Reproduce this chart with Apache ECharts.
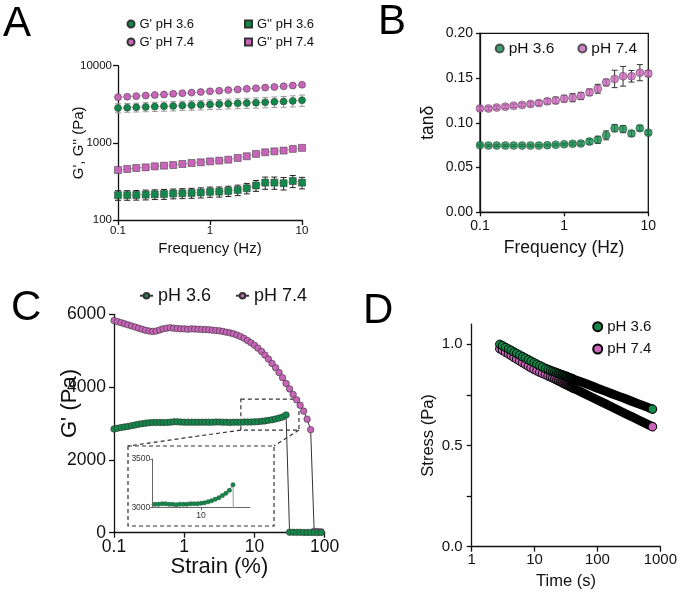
<!DOCTYPE html>
<html><head><meta charset="utf-8">
<script src="https://cdn.jsdelivr.net/npm/echarts@6/dist/echarts.min.js"></script>
<style>html,body{margin:0;padding:0;background:#fff}#c{width:680px;height:594px}</style>
</head><body><div id="c"></div>
<script>
// ---------- Panel A / B : frequency sweep ----------
const freq = [0.1, 0.126, 0.158, 0.2, 0.251, 0.316, 0.398, 0.501, 0.631, 0.794, 1, 1.26, 1.58, 2, 2.51, 3.16, 3.98, 5.01, 6.31, 7.94, 10];
const gp36 = [2830, 2860, 2890, 2920, 2950, 2980, 3010, 3050, 3080, 3110, 3150, 3180, 3220, 3250, 3290, 3320, 3360, 3400, 3440, 3500, 3570];
const gp36Err = [380, 370, 380, 390, 400, 410, 420, 420, 430, 440, 450, 460, 470, 480, 490, 500, 520, 530, 550, 570, 600];
const gp74 = [3900, 3960, 4030, 4100, 4170, 4240, 4320, 4400, 4480, 4560, 4650, 4740, 4830, 4920, 5010, 5100, 5200, 5300, 5410, 5530, 5660];
const gp74Err = [50, 50, 50, 55, 55, 55, 60, 60, 60, 65, 65, 65, 70, 70, 75, 75, 80, 80, 85, 90, 95];
const gpp36 = [210, 210, 211, 213, 215, 217, 220, 222, 224, 227, 232, 233, 238, 245, 258, 280, 305, 305, 300, 320, 305];
const gpp36Err = [30, 30, 30, 31, 31, 32, 32, 33, 33, 34, 35, 35, 36, 38, 40, 45, 55, 55, 55, 57, 52];
const gpp74 = [445, 458, 472, 481, 496, 506, 516, 532, 548, 559, 575, 588, 605, 637, 670, 718, 754, 776, 794, 835, 861];
const gpp74Err = [10, 10, 10, 10, 10, 10, 11, 11, 12, 12, 12, 13, 13, 14, 15, 16, 17, 18, 18, 19, 20];

const tan36 = [0.075, 0.0745, 0.0745, 0.0745, 0.0745, 0.0745, 0.0745, 0.0745, 0.075, 0.0755, 0.076, 0.0765, 0.077, 0.079, 0.081, 0.086, 0.094, 0.093, 0.088, 0.094, 0.089];
const tan36Err = [0.001, 0.001, 0.001, 0.001, 0.001, 0.001, 0.001, 0.001, 0.001, 0.001, 0.001, 0.0015, 0.002, 0.003, 0.004, 0.005, 0.004, 0.004, 0.003, 0.003, 0.002];
const tan74 = [0.116, 0.116, 0.117, 0.118, 0.119, 0.120, 0.121, 0.122, 0.124, 0.125, 0.127, 0.128, 0.130, 0.134, 0.138, 0.145, 0.149, 0.152, 0.152, 0.156, 0.155];
const tan74Err = [0.002, 0.002, 0.002, 0.002, 0.002, 0.002, 0.0025, 0.0028, 0.003, 0.0037, 0.0037, 0.0045, 0.004, 0.0037, 0.005, 0.0037, 0.0097, 0.011, 0.0065, 0.009, 0.0034];

// ---------- Panel C : amplitude sweep ----------
const strain = [0.1, 0.112, 0.126, 0.141, 0.158, 0.178, 0.2, 0.224, 0.251, 0.282, 0.316, 0.355, 0.398, 0.447, 0.501, 0.562, 0.631, 0.708, 0.794, 0.891,
  1, 1.12, 1.26, 1.41, 1.58, 1.78, 2, 2.24, 2.51, 2.82, 3.16, 3.55, 3.98, 4.47, 5.01, 5.62, 6.31, 7.08, 7.94, 8.91,
  10, 11.2, 12.6, 14.1, 15.8, 17.8, 20, 22.4, 25.1, 28.2, 31.6, 35.5, 39.8, 44.7, 50.1, 56.2, 63.1, 70.8, 79.4, 89.1];
const gC36 = [2850, 2870, 2890, 2905, 2920, 2940, 2960, 2980, 2995, 3010, 3020, 3025, 3030, 3030, 3025, 3030, 3035, 3045, 3045, 3040,
  3035, 3035, 3035, 3035, 3035, 3035, 3035, 3035, 3035, 3040, 3040, 3035, 3035, 3030, 3035, 3035, 3035, 3040, 3040, 3040,
  3045, 3050, 3060, 3072, 3086, 3102, 3124, 3148, 3178, 3235, 15, 12, 10, 10, 8, 8, 8, 6, 6, 5];
const gC74 = [5830, 5800, 5770, 5740, 5710, 5680, 5650, 5620, 5590, 5560, 5540, 5530, 5540, 5570, 5600, 5620, 5630, 5620, 5610, 5600,
  5600, 5590, 5600, 5595, 5590, 5585, 5580, 5575, 5565, 5555, 5545, 5530, 5510, 5490, 5465, 5430, 5390, 5340, 5280, 5220,
  5150, 5070, 4980, 4880, 4770, 4650, 4530, 4400, 4260, 4100, 3950, 3800, 3650, 3500, 3340, 3120, 2830, 40, 30, 25];
const zoomStrain = [6.4, 43];     // dashed zoom box (strain range)
const zoomG = [2820, 3670];       // dashed zoom box (G' range)
const insetXTicks = [10];
const insetYTicks = [3000, 3500];

// ---------- Panel D : stress relaxation ----------
const tD = [2.8, 3.1, 3.45, 3.85, 4.25, 4.7, 5.2, 5.8, 6.45, 7.15, 7.95, 8.8, 9.8, 10.9, 12.1, 13.4, 14.9, 16.4, 17.9, 19.4, 21, 22.6, 24.2, 25.9, 27.6, 29.4, 31.2, 33, 34.9, 36.8, 38.7, 40.6, 50, 60, 80, 100, 130, 170, 220, 280, 350, 450, 550, 650, 750];
const sD36 = [1.000, 0.993, 0.985, 0.977, 0.970, 0.962, 0.955, 0.947, 0.939, 0.932, 0.924, 0.917, 0.909, 0.902, 0.895, 0.888, 0.881, 0.876, 0.871, 0.867, 0.863, 0.859, 0.856, 0.852, 0.849, 0.846, 0.843, 0.840, 0.837, 0.834, 0.832, 0.829, 0.819, 0.810, 0.795, 0.783, 0.770, 0.756, 0.743, 0.731, 0.719, 0.706, 0.696, 0.687, 0.680];
const sD74 = [0.978, 0.970, 0.961, 0.952, 0.944, 0.935, 0.927, 0.918, 0.909, 0.901, 0.892, 0.884, 0.876, 0.869, 0.862, 0.856, 0.850, 0.844, 0.839, 0.834, 0.829, 0.824, 0.819, 0.815, 0.810, 0.806, 0.802, 0.798, 0.795, 0.791, 0.788, 0.784, 0.771, 0.759, 0.740, 0.725, 0.708, 0.690, 0.673, 0.657, 0.643, 0.626, 0.613, 0.602, 0.593];
const dYTicks = [0, 0.25, 0.5, 0.75, 1];
const dYLabels = [0, 0.5, 1];

// ---------- styling ----------
const FONT = 'Liberation Sans, Arial, Helvetica, sans-serif';
const GREEN = '#12894a', PINK = '#c865b8', AX = '#111';
const zip = (xs, ys) => xs.map((x, i) => [x, ys[i]]);
const logFmt = v => String(+(+v).toPrecision(6));

function errBars(ai, xs, vs, es, color, capW) {
  return {
    type: 'custom', xAxisIndex: ai, yAxisIndex: ai, silent: true,
    data: xs.map((x, i) => [x, vs[i] - es[i], vs[i] + es[i]]),
    encode: {x: 0, y: [1, 2]},
    renderItem(params, api) {
      const lo = api.coord([api.value(0), api.value(1)]);
      const hi = api.coord([api.value(0), api.value(2)]);
      const x = lo[0], st = {stroke: color, lineWidth: 1};
      return {type: 'group', children: [
        {type: 'line', shape: {x1: x, y1: lo[1], x2: x, y2: hi[1]}, style: st},
        {type: 'line', shape: {x1: x - capW, y1: lo[1], x2: x + capW, y2: lo[1]}, style: st},
        {type: 'line', shape: {x1: x - capW, y1: hi[1], x2: x + capW, y2: hi[1]}, style: st}
      ]};
    }
  };
}

function ax(o) {
  const fs = o.fs, base = {
    axisLine: {show: true, onZero: false, lineStyle: {color: AX, width: 1.3}},
    axisTick: {show: true, inside: false, length: o.tick || 5, lineStyle: {color: AX, width: 1.3}},
    axisLabel: {color: AX, fontSize: fs, fontFamily: FONT, margin: o.margin || 6},
    splitLine: {show: false},
    nameLocation: 'middle',
    nameMoveOverlap: false,
    nameTextStyle: {color: AX, fontSize: o.nfs, fontFamily: FONT, padding: o.npad || 0}
  };
  delete o.fs; delete o.nfs; delete o.margin; delete o.tick; delete o.npad;
  const r = Object.assign(base, o);
  if (o.axisLabelExtra) { Object.assign(r.axisLabel, o.axisLabelExtra); delete r.axisLabelExtra; }
  if (o.axisTickExtra) { Object.assign(r.axisTick, o.axisTickExtra); delete r.axisTickExtra; }
  return r;
}

const grids = [
  {left: 118, top: 65.7, width: 184, height: 154.3},
  {left: 480, top: 33.3, width: 168.3, height: 179, show: true, borderColor: AX, borderWidth: 1.3},
  {left: 114, top: 314.3, width: 210.7, height: 218.4},
  {left: 152.3, top: 459, width: 97.7, height: 48.7},
  {left: 471.7, top: 324.1, width: 189.3, height: 222.6}
];

const xAxes = [
  ax({gridIndex: 0, type: 'log', logBase: 10, min: 0.1, max: 10, fs: 11.5, margin: 5, name: 'Frequency (Hz)', nfs: 15, nameGap: 21, axisLabelExtra: {formatter: logFmt}}),
  ax({gridIndex: 1, type: 'log', logBase: 10, min: 0.1, max: 10, fs: 14, margin: 7, tick: 4, name: 'Frequency (Hz)', nfs: 17.5, nameGap: 27, axisLabelExtra: {formatter: logFmt}}),
  ax({gridIndex: 2, type: 'log', logBase: 10, min: 0.1, max: 100, fs: 17.5, margin: 5, name: 'Strain (%)', nfs: 22, nameGap: 23, axisLabelExtra: {formatter: logFmt}}),
  ax({gridIndex: 3, type: 'log', logBase: 10, min: 2.06, max: 48.9, fs: 8.5, margin: 3, tick: 2.5,
      axisLine: {show: true, onZero: false, lineStyle: {color: '#666', width: 1}},
      axisLabelExtra: {customValues: insetXTicks, formatter: logFmt, color: '#333'},
      axisTickExtra: {customValues: insetXTicks, lineStyle: {color: '#666', width: 1}}}),
  ax({gridIndex: 4, type: 'log', logBase: 10, min: 1, max: 1000, fs: 15, margin: 6, name: 'Time (s)', nfs: 16.5, nameGap: 26, axisLabelExtra: {formatter: logFmt}})
];
const yAxes = [
  ax({gridIndex: 0, type: 'log', logBase: 10, min: 100, max: 10000, fs: 11.5, margin: 6, name: "G', G'' (Pa)", nfs: 15, nameGap: 32, axisLabelExtra: {formatter: logFmt}}),
  ax({gridIndex: 1, type: 'value', min: 0, max: 0.2, interval: 0.05, fs: 14, margin: 7, tick: 4, name: 'tanδ', nfs: 17.5, nameGap: 43, axisLabelExtra: {formatter: v => v.toFixed(2)}}),
  ax({gridIndex: 2, type: 'value', min: 0, max: 6000, interval: 2000, fs: 17.5, margin: 8, name: "G' (Pa)", nfs: 22, nameGap: 33, npad: [0, 0, 0, 40], axisLabelExtra: {formatter: v => String(Math.round(v))}}),
  ax({gridIndex: 3, type: 'value', min: 3000, max: 3500, interval: 500, fs: 8.5, margin: 2, tick: 2,
      axisLine: {show: true, onZero: false, lineStyle: {color: '#666', width: 1}},
      axisLabelExtra: {customValues: insetYTicks, color: '#333', formatter: v => String(Math.round(v))},
      axisTickExtra: {customValues: insetYTicks, lineStyle: {color: '#666', width: 1}}}),
  ax({gridIndex: 4, type: 'value', min: 0, max: 1.1, fs: 15, margin: 9, name: 'Stress (Pa)', nfs: 16.5, nameGap: 35,
      axisLabelExtra: {customValues: dYLabels, formatter: v => v.toFixed(1)},
      axisTickExtra: {customValues: dYTicks}})
];

const mk = (c, bw) => ({color: c, borderColor: '#333', borderWidth: bw == null ? 0.5 : bw});
const series = [];
// Panel A
series.push(errBars(0, freq, gp74, gp74Err, '#999', 3));
series.push(errBars(0, freq, gp36, gp36Err, '#999', 3));
series.push(errBars(0, freq, gpp74, gpp74Err, '#777', 3));
series.push(errBars(0, freq, gpp36, gpp36Err, '#222', 3));
const aLine = {color: '#aaa', width: 0.8};
series.push({name: "G' pH 7.4", type: 'line', xAxisIndex: 0, yAxisIndex: 0, data: zip(freq, gp74), symbol: 'circle', symbolSize: 7, itemStyle: mk(PINK), lineStyle: aLine});
series.push({name: "G' pH 3.6", type: 'line', xAxisIndex: 0, yAxisIndex: 0, data: zip(freq, gp36), symbol: 'circle', symbolSize: 7, itemStyle: mk(GREEN), lineStyle: aLine});
series.push({name: "G'' pH 7.4", type: 'line', xAxisIndex: 0, yAxisIndex: 0, data: zip(freq, gpp74), symbol: 'rect', symbolSize: 7, itemStyle: mk(PINK), lineStyle: aLine});
series.push({name: "G'' pH 3.6", type: 'line', xAxisIndex: 0, yAxisIndex: 0, data: zip(freq, gpp36), symbol: 'rect', symbolSize: 7, itemStyle: mk(GREEN), lineStyle: aLine});
// Panel B
series.push(errBars(1, freq, tan74, tan74Err, '#333', 3));
series.push(errBars(1, freq, tan36, tan36Err, '#333', 3));
series.push({name: 'pH 7.4|B', type: 'scatter', xAxisIndex: 1, yAxisIndex: 1, data: zip(freq, tan74), symbol: 'circle', symbolSize: 8, itemStyle: mk(PINK)});
series.push({name: 'pH 3.6|B', type: 'scatter', xAxisIndex: 1, yAxisIndex: 1, data: zip(freq, tan36), symbol: 'circle', symbolSize: 8, itemStyle: mk(GREEN)});
// Panel C
const cLine = {color: '#333', width: 1};
series.push({name: 'pH 7.4|C', type: 'line', xAxisIndex: 2, yAxisIndex: 2, data: zip(strain, gC74), symbol: 'circle', symbolSize: 6.5, showAllSymbol: true, itemStyle: mk(PINK, 0.6), lineStyle: cLine});
series.push({name: 'pH 3.6|C', type: 'line', xAxisIndex: 2, yAxisIndex: 2, data: zip(strain, gC36), symbol: 'circle', symbolSize: 6.5, showAllSymbol: true, itemStyle: mk(GREEN, 0.6), lineStyle: cLine});
// inset
series.push({name: 'inset', type: 'line', xAxisIndex: 3, yAxisIndex: 3, data: zip(strain, gC36), clip: true, symbol: 'circle', symbolSize: 4.5, showAllSymbol: true, itemStyle: mk(GREEN, 0.3), lineStyle: {color: '#999', width: 1}});
// Panel D
const allD36 = zip(tD, sD36), allD74 = zip(tD, sD74);
const markPts = a => a.filter(p => p[0] <= 41);
const bandPts = a => a.filter(p => p[0] >= 16);
const bandGrad = () => new echarts.graphic.LinearGradient(0, 0, 1, 0, [
  {offset: 0, color: 'rgba(0,0,0,0)'}, {offset: 0.26, color: 'rgba(0,0,0,1)'}, {offset: 1, color: 'rgba(0,0,0,1)'}]);
function band(name, pts, color, z) {
  const n = pts.length;
  return {name, type: 'line', z, xAxisIndex: 4, yAxisIndex: 4, data: pts, symbol: 'circle', showAllSymbol: true,
    symbolSize: (v, p) => p.dataIndex === n - 1 ? 8.5 : 0,
    itemStyle: {color, borderColor: '#000', borderWidth: 1},
    lineStyle: {color: bandGrad(), width: 9, cap: 'round', join: 'round'}};
}
series.push({name: 'pH 7.4|D', type: 'line', z: 3, xAxisIndex: 4, yAxisIndex: 4, data: markPts(allD74), symbol: 'circle', symbolSize: 8.5, showAllSymbol: true, itemStyle: {color: PINK, borderColor: '#000', borderWidth: 1}, lineStyle: {width: 0}});
series.push(band('band74', bandPts(allD74), PINK, 4));
series.push({name: 'pH 3.6|D', type: 'line', z: 5, xAxisIndex: 4, yAxisIndex: 4, data: markPts(allD36), symbol: 'circle', symbolSize: 8.5, showAllSymbol: true, itemStyle: {color: GREEN, borderColor: '#000', borderWidth: 1}, lineStyle: {width: 0}});
series.push(band('band36', bandPts(allD36), GREEN, 6));

const legTxt = fs => ({fontSize: fs, fontFamily: FONT, color: AX});
const legFmt = n => n.split('|')[0];
const legends = [
  {data: [{name: "G' pH 3.6", icon: 'circle'}, {name: "G'' pH 3.6", icon: 'rect'}], left: 126.5, top: 17.5, padding: 0, itemWidth: 7, itemHeight: 7, itemGap: 50, selectedMode: false, textStyle: legTxt(13)},
  {data: [{name: "G' pH 7.4", icon: 'circle'}, {name: "G'' pH 7.4", icon: 'rect'}], left: 126.5, top: 35.5, padding: 0, itemWidth: 7, itemHeight: 7, itemGap: 50, selectedMode: false, textStyle: legTxt(13)},
  {data: [{name: 'pH 3.6|B', icon: 'circle'}, {name: 'pH 7.4|B', icon: 'circle'}], left: 494.7, top: 40.5, padding: 0, itemWidth: 8, itemHeight: 8, itemGap: 23, selectedMode: false, formatter: legFmt, textStyle: legTxt(15.5)},
  {data: ['pH 3.6|C', 'pH 7.4|C'], left: 139, top: 286.7, padding: 0, itemWidth: 13, itemHeight: 7, itemGap: 24, selectedMode: false, formatter: legFmt, textStyle: legTxt(18)},
  {data: [{name: 'pH 3.6|D', icon: 'circle'}, {name: 'pH 7.4|D', icon: 'circle'}], orient: 'vertical', left: 592.2, top: 319.2, padding: 0, itemWidth: 9, itemHeight: 9, itemGap: 7.3, selectedMode: false, formatter: legFmt, textStyle: legTxt(15)}
];

const chart = echarts.init(document.getElementById('c'), null, {renderer: 'canvas'});
chart.setOption({
  animation: false,
  backgroundColor: '#fff',
  grid: grids, xAxis: xAxes, yAxis: yAxes, legend: legends, series
});

// annotations: panel letters, zoom box (from data coords), inset frame, connectors
const p1 = chart.convertToPixel({xAxisIndex: 2, yAxisIndex: 2}, [zoomStrain[0], zoomG[1]]);
const p2 = chart.convertToPixel({xAxisIndex: 2, yAxisIndex: 2}, [zoomStrain[1], zoomG[0]]);
const frame = {x: 128, y: 446, w: 146, h: 80};
const dash = {stroke: '#333', lineWidth: 1.2, lineDash: [4, 3], fill: null};
const letter = (t, x, y) => ({type: 'text', x, y, silent: true, style: {text: t, fontSize: 42, fontFamily: FONT, fill: '#000', verticalAlign: 'middle', align: 'left'}});
chart.setOption({graphic: [
  letter('A', 3, 24), letter('B', 378, 22), letter('C', 11, 308), letter('D', 363, 311.5),
  {type: 'rect', silent: true, shape: {x: p1[0], y: p1[1], width: p2[0] - p1[0], height: p2[1] - p1[1]}, style: dash},
  {type: 'rect', silent: true, shape: {x: frame.x, y: frame.y, width: frame.w, height: frame.h}, style: dash},
  {type: 'line', silent: true, shape: {x1: p1[0], y1: p2[1], x2: frame.x, y2: frame.y}, style: dash},
  {type: 'line', silent: true, shape: {x1: p2[0], y1: p2[1], x2: frame.x + frame.w, y2: frame.y}, style: dash}
]});
</script></body></html>
